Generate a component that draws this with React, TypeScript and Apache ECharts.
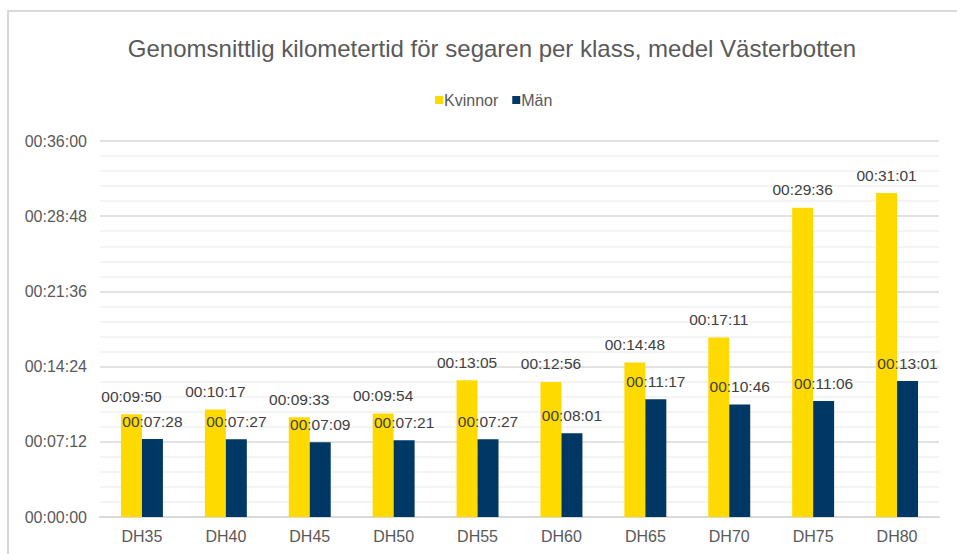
import React, { useEffect, useRef } from "react";
import * as echarts from "echarts";

const categories = ["DH35", "DH40", "DH45", "DH50", "DH55", "DH60", "DH65", "DH70", "DH75", "DH80"];
// seconds
const kvinnor = [590, 617, 573, 594, 785, 776, 888, 1031, 1776, 1861];
const man = [448, 447, 429, 441, 447, 481, 677, 646, 666, 781];
const yMax = 2160;
const yInterval = 432;

const fmt = (s: number) => {
  const h = Math.floor(s / 3600);
  const m = Math.floor((s % 3600) / 60);
  const sec = Math.round(s % 60);
  const p = (n: number) => String(n).padStart(2, "0");
  return `${p(h)}:${p(m)}:${p(sec)}`;
};

export default function App() {
  const ref = useRef<HTMLDivElement>(null);
  useEffect(() => {
    if (!ref.current) return;
    const chart = echarts.init(ref.current, undefined, { renderer: "svg" });
    const font = "'Liberation Sans', Arial, sans-serif";
    const labelStyle = {
      show: true,
      position: "top" as const,
      distance: 10,
      color: "#404040",
      fontSize: 15.5,
      fontFamily: font,
      formatter: (p: any) => fmt(p.value),
    };
    chart.setOption({
      animation: false,
      backgroundColor: "#ffffff",
      textStyle: { fontFamily: font },
      title: {
        text: "Genomsnittlig kilometertid för segaren per klass, medel Västerbotten",
        left: 487,
        textAlign: "center",
        top: 31,
        textStyle: { fontSize: 24, fontWeight: "normal", color: "#595959", fontFamily: font },
      },
      legend: {
        top: 87,
        left: 430,
        itemWidth: 8,
        itemHeight: 8,
        itemGap: 14,
        icon: "rect",
        textStyle: { fontSize: 16, color: "#595959", fontFamily: font, padding: [0, 0, 0, -4] },
        data: ["Kvinnor", "Män"],
      },
      graphic: [
        {
          type: "polyline",
          shape: { points: [[8, 560], [8, 11], [960, 11]] },
          style: { stroke: "#d9d9d9", lineWidth: 2, fill: "none" },
          silent: true,
        },
      ],
      grid: { left: 100, right: 18, top: 141, bottom: 37 },
      xAxis: {
        type: "category",
        data: categories,
        axisLine: { lineStyle: { color: "#d9d9d9", width: 2 } },
        axisTick: { show: false },
        axisLabel: { fontSize: 16, color: "#595959", margin: 11, fontFamily: font },
      },
      yAxis: {
        type: "value",
        min: 0,
        max: yMax,
        interval: yInterval,
        axisLine: { show: false },
        axisTick: { show: false },
        axisLabel: { fontSize: 16, color: "#595959", margin: 13, fontFamily: font, formatter: (v: number) => fmt(v) },
        splitLine: { lineStyle: { color: "#d9d9d9", width: 1.5 } },
        minorTick: { show: false, splitNumber: 5 },
        minorSplitLine: { show: true, lineStyle: { color: "#f0f0f0", width: 1.5 } },
      },
      series: [
        {
          name: "Kvinnor",
          type: "bar",
          data: kvinnor,
          barGap: "0%",
          barCategoryGap: "50%",
          itemStyle: { color: "#FFDA00" },
          label: labelStyle,
        },
        {
          name: "Män",
          type: "bar",
          data: man,
          barGap: "0%",
          barCategoryGap: "50%",
          itemStyle: { color: "#003865" },
          label: labelStyle,
        },
      ],
    });
    return () => chart.dispose();
  }, []);
  return <div ref={ref} style={{ width: 957, height: 554, position: "absolute", left: 0, top: 0 }} />;
}
